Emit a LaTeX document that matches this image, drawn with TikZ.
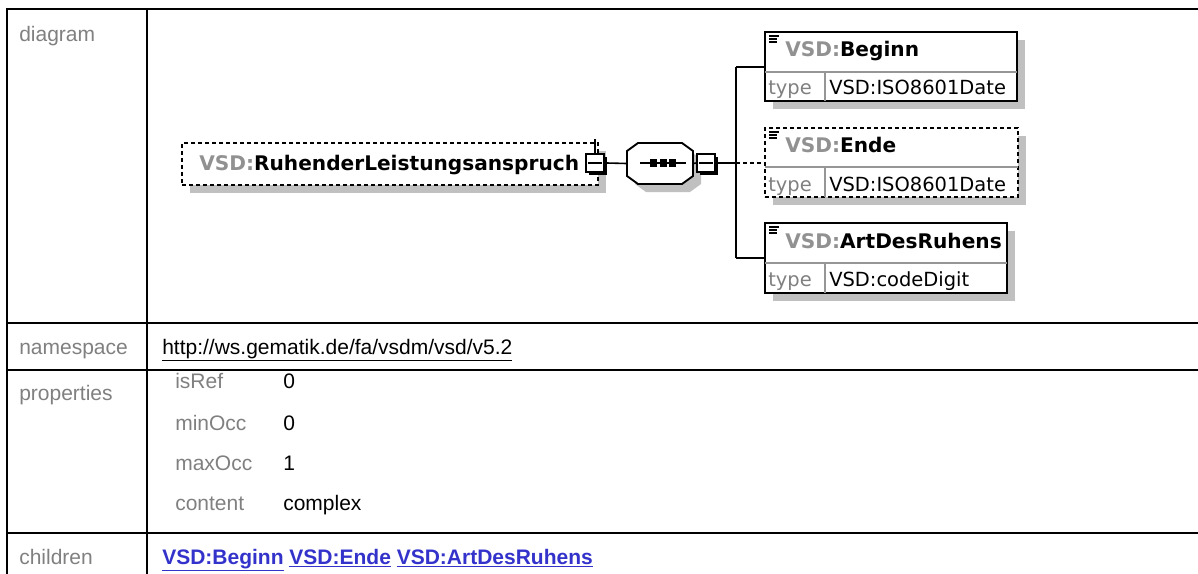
\documentclass[tikz,border=0pt]{standalone}
\usepackage{fontspec}
\setmainfont{Liberation Sans}
\newfontfamily\dvfont{DejaVu Sans}
\usetikzlibrary{fit,shadows}
\definecolor{labgray}{RGB}{128,128,128}
\definecolor{vsdgray}{RGB}{145,145,145}
\definecolor{shadowc}{RGB}{192,192,192}
\definecolor{divc}{RGB}{150,150,150}
\definecolor{linkblue}{RGB}{51,51,204}
\newcommand\tabfont{\fontsize{15.75}{19}\selectfont}
\newcommand\dfont{\dvfont\fontsize{14.6}{17}\selectfont}
\newcommand\tfont{\dvfont\fontsize{15.1}{18}\selectfont}
\tikzset{
  tline/.style={line width=2pt, black},
  lab/.style={anchor=base west, inner sep=0pt, text=labgray, font=\tabfont},
  val/.style={anchor=base west, inner sep=0pt, font=\tabfont},
  conn/.style={line width=1.2pt, black},
  bx/.style={draw=black, line width=1.4pt, inner sep=0pt, fill=white},
  dbx/.style={bx, dash pattern=on 3pt off 2.25pt},
  gshadow/.style={drop shadow={shadow xshift=6pt, shadow yshift=-6pt, fill=shadowc, opacity=1}},
  kshadow/.style={drop shadow={shadow xshift=2pt, shadow yshift=-2pt, fill=black, opacity=1}},
  ttl/.style={anchor=base west, inner sep=0pt, font=\tfont\bfseries},
  typ/.style={anchor=base west, inner sep=0pt, font=\dfont},
  divl/.style={draw=divc, line width=0.9pt},
  icon/.style={line width=0.9pt, black},
}
\begin{document}
\begin{tikzpicture}[x=0.75pt,y=-0.75pt]
\useasboundingbox (0,0) rectangle (1198,574);
\fill[white] (0,0) rectangle (1198,574);
% ---------- table grid ----------
\draw[tline] (7,9) -- (1198,9);
\draw[tline] (7,323) -- (1198,323);
\draw[tline] (7,370) -- (1198,370);
\draw[tline] (7,533) -- (1198,533);
\draw[tline] (7,8) -- (7,574);
\draw[tline] (147,9) -- (147,574);
% ---------- table labels ----------
\node[lab] (ldiagram) at (19,42) {diagram};
\node[lab] (lns) at (19,354) {namespace};
\node[lab] (lprops) at (19,400) {properties};
\node[lab] (lchildren) at (19,564) {children};
\node[val] (nsval) at (162,354) {\underline{http://ws.gematik.de/fa/vsdm/vsd/v5.2}};
\node[lab] (pisref) at (175,388) {isRef};
\node[lab] (pminocc) at (175,430) {minOcc};
\node[lab] (pmaxocc) at (175,470) {maxOcc};
\node[lab] (pcontent) at (175,510) {content};
\node[val] (visref) at (283,388) {0};
\node[val] (vminocc) at (283,430) {0};
\node[val] (vmaxocc) at (283,470) {1};
\node[val] (vcontent) at (283,510) {complex};
\node[val, text=linkblue, font=\tabfont\bfseries] (childlinks) at (162,564)
  {\underline{VSD:Beginn} \underline{VSD:Ende} \underline{VSD:ArtDesRuhens}};
% ---------- main element ----------
\node[dbx, gshadow, fit={(182,143) (598,185)}] (main) {};
\node[ttl] (maintxt) at (199,171) {\textcolor{vsdgray}{VSD:}RuhenderLeistungsanspruch};
\node[bx, line width=1pt, kshadow, fit={(586,154) (604,172)}] (mainsq) {};
\draw[conn] ([xshift=2.25pt]mainsq.west) -- ([xshift=-2.25pt]mainsq.east);
\draw[conn] (mainsq.north) -- ++(0,-14);
% ---------- sequence ----------
\node[inner sep=0pt, fit={(627,143) (693,184)}] (seq) {};
\draw[bx, gshadow] (638,143) -- (682,143) -- (693,151) -- (693,176) -- (682,184)
  -- (638,184) -- (627,176) -- (627,151) -- cycle;
\draw[conn] (640,163) -- (686,163);
\fill (650,159.5) rectangle (657,166.5);
\fill (659.5,159.5) rectangle (666.5,166.5);
\fill (669,159.5) rectangle (676,166.5);
\node[bx, line width=1pt, kshadow, fit={(697,154) (715,172)}] (seqsq) {};
\draw[conn] ([xshift=2.25pt]seqsq.west) -- ([xshift=-2.25pt]seqsq.east);
% ---------- children ----------
\node[bx, gshadow, fit={(765,32) (1017,101)}] (beginn) {};
\draw[divl] (765,72) -- (1017,72);
\draw[divl] (825,72) -- (825,101);
\node[ttl] (beginnt) at (785,57) {\textcolor{vsdgray}{VSD:}Beginn};
\node[typ, text=labgray] (beginnty) at (768,95) {type};
\node[typ] (beginntv) at (829,95) {VSD:ISO8601Date};
\draw[icon] (769,36) -- (779,36);
\foreach \yy in {39,42} \draw[icon] (769,\yy) -- (777,\yy);

\node[dbx, gshadow, fit={(765,128) (1018,197)}] (ende) {};
\draw[divl] (765,167) -- (1018,167);
\draw[divl] (825,167) -- (825,197);
\node[ttl] (endet) at (785,152) {\textcolor{vsdgray}{VSD:}Ende};
\node[typ, text=labgray] (endety) at (768,191) {type};
\node[typ] (endetv) at (829,191) {VSD:ISO8601Date};
\draw[icon] (769,132) -- (779,132);
\foreach \yy in {135,138} \draw[icon] (769,\yy) -- (777,\yy);

\node[bx, gshadow, fit={(765,223) (1007,293)}] (art) {};
\draw[divl] (765,263) -- (1007,263);
\draw[divl] (825,263) -- (825,293);
\node[ttl] (artt) at (785,248) {\textcolor{vsdgray}{VSD:}ArtDesRuhens};
\node[typ, text=labgray] (artty) at (768,286) {type};
\node[typ] (arttv) at (829,286) {VSD:codeDigit};
\draw[icon] (769,227) -- (779,227);
\foreach \yy in {230,233} \draw[icon] (769,\yy) -- (777,\yy);
% ---------- connectors ----------
\coordinate (J) at (736,163);
\coordinate (Jt) at (736,67);
\coordinate (Jb) at (736,258);
\draw[conn] (mainsq.east) ++(1.5pt,0) -- (seq.west);
\draw[conn] (seq.east) -- (seqsq.west);
\draw[conn] (seqsq.east) ++(1.5pt,0) -- (J);
\draw[conn] (Jt) -- (Jb);
\draw[conn] (Jt) -- (Jt -| beginn.west);
\draw[conn, dash pattern=on 3pt off 2.25pt] (J) -- (J -| ende.west);
\draw[conn] (Jb) -- (Jb -| art.west);
\end{tikzpicture}
\end{document}
